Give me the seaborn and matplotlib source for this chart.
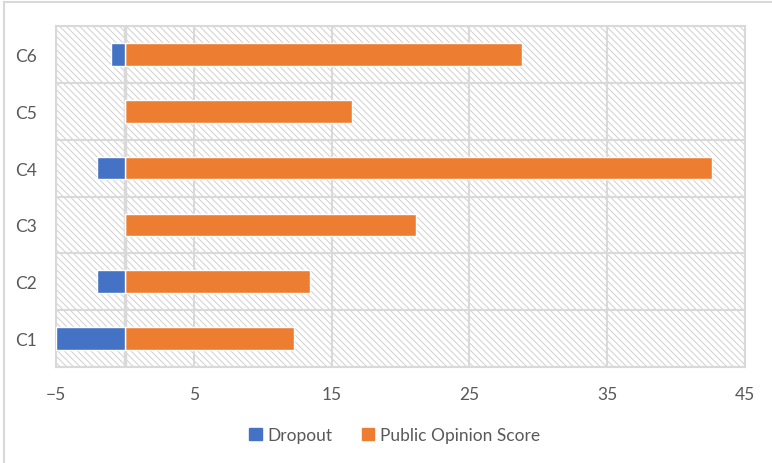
import matplotlib
matplotlib.use("Agg")
import matplotlib.pyplot as plt
import matplotlib.patches as mpatches
import pandas as pd
import seaborn as sns

# values
categories = ["C1", "C2", "C3", "C4", "C5", "C6"]
dropout = [-5, -2, 0, -2, 0, -1]
public_opinion = [12.3, 13.4, 21.1, 42.6, 16.5, 28.8]
x_ticks = [-5, 5, 15, 25, 35, 45]

blue = "#4472C4"
orange = "#ED7D31"
grid_col = "#d9d9d9"
text_col = "#595959"

df = pd.DataFrame({"category": categories,
                   "Dropout": dropout,
                   "Public Opinion Score": public_opinion})
order = categories[::-1]

sns.set_style("white")
plt.rcParams["font.family"] = ["Lato", "DejaVu Sans"]
plt.rcParams["hatch.linewidth"] = 0.7
plt.rcParams["hatch.color"] = "#d0d0d0"

fig = plt.figure(figsize=(7.72, 4.64), dpi=100)
ax = fig.add_axes([56 / 772, 1 - 368 / 464, 689 / 772, 341 / 464])

# hatched plot area background
ax.add_patch(mpatches.Rectangle((0, 0), 1, 1, transform=ax.transAxes,
                                facecolor="white", edgecolor="#d0d0d0",
                                hatch="\\\\\\\\\\", linewidth=0, zorder=0))

sns.barplot(data=df, y="category", x="Public Opinion Score", order=order,
            color=orange, width=0.4, saturation=1, orient="h", ax=ax, zorder=3)
sns.barplot(data=df, y="category", x="Dropout", order=order,
            color=blue, width=0.4, saturation=1, orient="h", ax=ax, zorder=3)

ax.set_xlim(-5, 45)
ax.set_ylim(5.5, -0.5)
ax.set_xticks(x_ticks)
ax.set_yticks(range(len(order)))
ax.set_yticklabels(order)
ax.set_yticks([i - 0.5 for i in range(len(order) + 1)], minor=True)
ax.grid(axis="x", which="major", color=grid_col, linewidth=1.5, zorder=1)
ax.grid(axis="y", which="minor", color=grid_col, linewidth=1.5, zorder=1)
ax.set_axisbelow(True)
ax.axvline(0, color=grid_col, linewidth=2.5, zorder=2)
ax.tick_params(axis="both", which="both", length=0, labelsize=12.5,
               colors=text_col)
ax.tick_params(axis="x", pad=14)
ax.tick_params(axis="y", pad=14)
ax.set_xlabel("")
ax.set_ylabel("")
for s in ax.spines.values():
    s.set_color(grid_col)
    s.set_linewidth(1.5)

handles = [mpatches.Patch(color=blue, label="Dropout"),
           mpatches.Patch(color=orange, label="Public Opinion Score")]
leg = fig.legend(handles=handles, loc="center", ncol=2, frameon=False,
                 bbox_to_anchor=(395 / 772, 1 - 436 / 464),
                 handlelength=0.7, handleheight=0.7, handletextpad=0.35,
                 columnspacing=1.7, fontsize=12.5)
for t in leg.get_texts():
    t.set_color(text_col)

# chart border (partly outside the image, as in the reference)
fig.add_artist(mpatches.Rectangle((4 / 772, -0.1), 1.2, 1 - 3 / 464 + 0.1,
                                  transform=fig.transFigure, fill=False,
                                  edgecolor=grid_col, linewidth=1.5))

plt.savefig("out.png", dpi=100)
